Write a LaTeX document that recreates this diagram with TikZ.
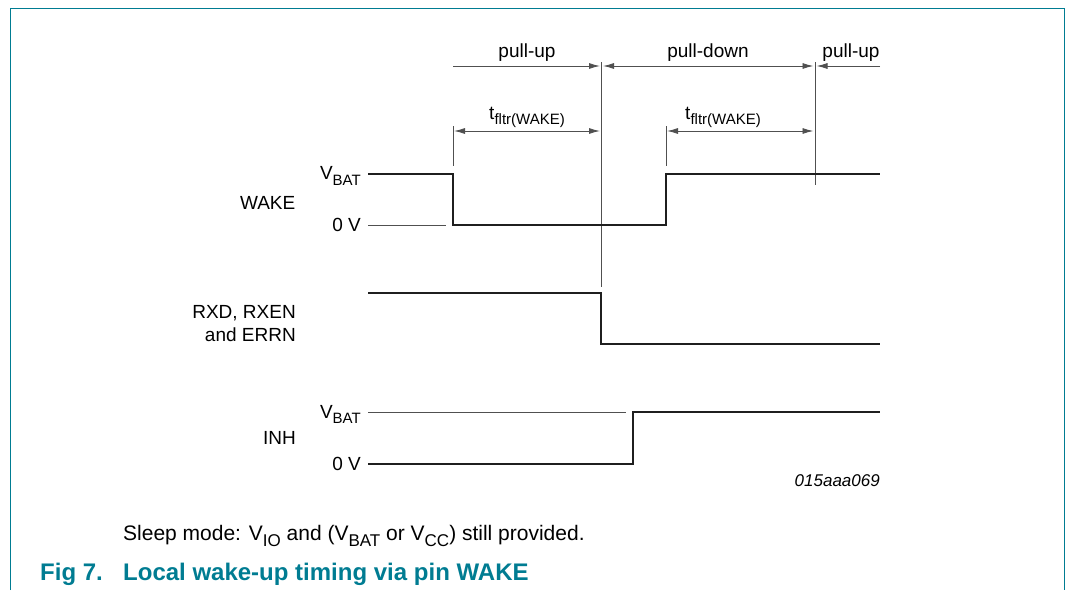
\documentclass[tikz,border=0pt]{standalone}
\usepackage{fontspec}
\setmainfont{Liberation Sans}
\usetikzlibrary{arrows.meta}
\definecolor{nxpteal}{RGB}{0,124,146}
\definecolor{guidegray}{RGB}{80,80,80}
\newcommand\sbs[1]{\raisebox{-0.3em}{\fontsize{15}{15}\selectfont #1}}
\newcommand\sbc[1]{\raisebox{-0.3em}{\fontsize{17}{17}\selectfont #1}}
\tikzset{
  lbl/.style={font=\fontsize{19}{22}\selectfont, inner sep=0pt, anchor=base},
  lblr/.style={lbl, anchor=base east},
  wave/.style={line width=2.4pt, black!88, line join=miter},
  guide/.style={line width=1pt, guidegray},
  dimarrow/.style={line width=0.9pt, guidegray, -{Latex[length=11pt,width=6pt]}},
  dimboth/.style={line width=0.9pt, guidegray, {Latex[length=11pt,width=6pt]}-{Latex[length=11pt,width=6pt]}},
  frame/.style={line width=1.6pt, nxpteal},
}
\begin{document}
\begin{tikzpicture}[x=1pt,y=-1pt]
\useasboundingbox (0,0) rectangle (1066,590);
% frame
\draw[frame] (10.5,590) -- (10.5,8.5) -- (1064.5,8.5) -- (1064.5,590);

% markers
\coordinate (m1top) at (601,62);  \coordinate (m1bot) at (601,287);
\coordinate (m2top) at (815,62);  \coordinate (m2bot) at (815,185);
\coordinate (t1top) at (453,126); \coordinate (t1bot) at (453,166);
\coordinate (t2top) at (666,126); \coordinate (t2bot) at (666,166);
\draw[guide] (m1top) -- (m1bot);
\draw[guide] (m2top) -- (m2bot);
\draw[guide] (t1top) -- (t1bot);
\draw[guide] (t2top) -- (t2bot);

% pull-up / pull-down arrows
\coordinate (pa) at (453,66); \coordinate (pb) at (600,66);
\coordinate (pc) at (603,66); \coordinate (pd) at (813.5,66);
\coordinate (pe) at (880,66); \coordinate (pf) at (816.5,66);
\draw[dimarrow] (pa) -- (pb);
\draw[dimboth] (pc) -- (pd);
\draw[dimarrow] (pe) -- (pf);
\node[lbl] (lpu1) at (527,57.5) {pull-up};
\node[lbl] (lpd) at (708,57.5) {pull-down};
\node[lbl] (lpu2) at (851,57.5) {pull-up};

% filter time arrows
\coordinate (fa) at (454,131); \coordinate (fb) at (600,131);
\coordinate (fc) at (667,131); \coordinate (fd) at (813.5,131);
\draw[dimboth] (fa) -- (fb);
\draw[dimboth] (fc) -- (fd);
\node[lbl] (lt1) at (527,119) {t\sbs{fltr(WAKE)}};
\node[lbl] (lt2) at (723,119) {t\sbs{fltr(WAKE)}};

% WAKE
\node[lblr] (wvbat) at (361,179.5) {V\sbs{BAT}};
\node[lblr] (w0v) at (361,231) {0 V};
\node[lblr] (wname) at (295.5,209.5) {WAKE};
\draw[guide] (368,225) -- (446,225);
\draw[wave] (368,174) -- (453,174) -- (453,225) -- (666,225) -- (666,174) -- (880,174);

% RXD
\node[lblr] (rname1) at (296,318) {RXD, RXEN};
\node[lblr] (rname2) at (296,341) {and ERRN};
\draw[wave] (368,293) -- (601,293) -- (601,344) -- (880,344);

% INH
\node[lblr] (ivbat) at (361,418) {V\sbs{BAT}};
\node[lblr] (i0v) at (361,470) {0 V};
\node[lblr] (iname) at (296,444.5) {INH};
\draw[guide] (368,412) -- (626,412);
\draw[wave] (368,464) -- (633,464) -- (633,412) -- (880,412);

\node[lbl, anchor=base east, font=\fontsize{17}{20}\selectfont\itshape] (code) at (880,486) {015aaa069};

% caption
\node[lbl, anchor=base west, font=\fontsize{21}{24}\selectfont] (note) at (123,540) {Sleep mode: V\sbc{IO} and (V\sbc{BAT} or V\sbc{CC}) still provided.};
\node[lbl, anchor=base west, font=\fontsize{24}{28}\selectfont\bfseries, text=nxpteal] (fignum) at (40,580) {Fig 7.};
\node[lbl, anchor=base west, font=\fontsize{24}{28}\selectfont\bfseries, text=nxpteal] (figtitle) at (123,580) {Local wake-up timing via pin WAKE};
\end{tikzpicture}
\end{document}
